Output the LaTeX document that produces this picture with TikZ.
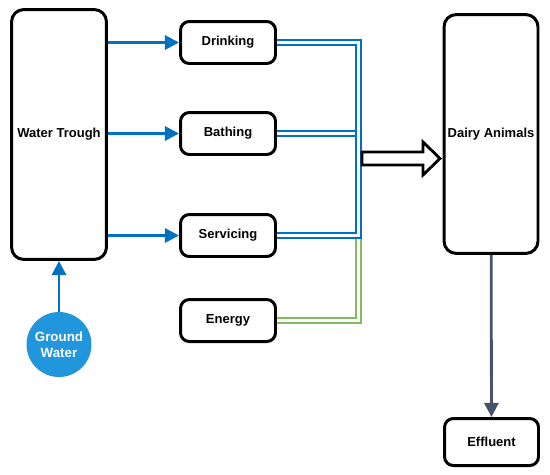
\documentclass[tikz,border=0pt]{standalone}
\usepackage{fontspec}
\setmainfont{Liberation Sans}
\usepackage{xcolor}
\usetikzlibrary{arrows.meta}

\definecolor{flowblue}{RGB}{0,112,192}
\definecolor{gwblue}{RGB}{33,150,220}
\definecolor{energygreen}{RGB}{132,186,98}
\definecolor{slate}{RGB}{68,84,106}

\begin{document}
\begin{tikzpicture}[x=0.02cm,y=-0.02cm,
    box/.style={draw,line width=1.7pt,rounded corners=5pt,fill=white,inner sep=0pt,
        minimum width=1.9cm,minimum height=0.84cm,font=\fontsize{7.4}{8.8}\selectfont\bfseries},
    bigbox/.style={box,rounded corners=7pt},
    flow/.style={draw=flowblue,line width=1.6pt,-{Triangle[length=8pt,width=8pt]}},
    pipe/.style={draw=flowblue,line width=1.3pt,double=white,double distance=1.5pt},
    greenpipe/.style={pipe,draw=energygreen}]
    \useasboundingbox (0,0) rectangle (550,474);

    \node[bigbox,minimum width=1.9cm,minimum height=5cm] (trough) at (59,134.5) {Water Trough};
    \node[circle,fill=gwblue,minimum size=1.3cm,inner sep=0pt,text=white,align=center,
        font=\fontsize{7.6}{9.2}\selectfont\bfseries] (ground) at (59,344.5) {Ground\\Water};

    \node[box] (drink) at (228,42.5) {Drinking};
    \node[box] (bath) at (228,133.5) {Bathing};
    \node[box] (serv) at (228,235.5) {Servicing};
    \node[box] (energy) at (228,320.5) {Energy};

    \node[bigbox,minimum width=1.88cm,minimum height=4.78cm] (dairy) at (491,134) {Dairy Animals};
    \node[box,minimum width=1.88cm,minimum height=0.94cm] (effluent) at (491.5,442) {Effluent};

    \draw[flow] (ground) -- (trough);
    \draw[flow] (trough.east |- drink.west) -- (drink.west);
    \draw[flow] (trough.east |- bath.west) -- (bath.west);
    \draw[flow] (trough.east |- serv.west) -- (serv.west);

    \coordinate (bus) at (358.5,0);
    \draw[greenpipe] (energy.east) -- (energy.east -| bus) -- (serv.east -| bus);
    \draw[pipe] (bath.east) -- (bath.east -| bus);
    \draw[pipe] (drink.east) -- (drink.east -| bus) -- (serv.east -| bus) -- (serv.east);

    \draw[line width=1.6pt,fill=white,line join=miter]
        (362,152) -- (423,152) -- (423,142) -- (440,158.5) -- (423,175) -- (423,165) -- (362,165) -- cycle;

    \draw[draw=slate,line width=1.6pt,-{Triangle[length=8pt,width=8pt]}] (dairy) -- (effluent);
\end{tikzpicture}
\end{document}
